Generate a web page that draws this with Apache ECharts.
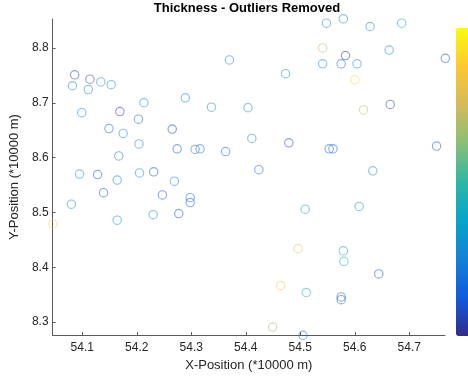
<!DOCTYPE html>
<html>
<head>
<meta charset="utf-8">
<script src="https://cdn.jsdelivr.net/npm/echarts@6/dist/echarts.min.js"></script>
<style>
  html, body { margin: 0; padding: 0; background: #fff; }
  #chart { width: 468px; height: 377px; }
</style>
</head>
<body>
<div id="chart"></div>
<script>
// tick positions (MATLAB style, *10000 m)
const xTicks = [54.1, 54.2, 54.3, 54.4, 54.5, 54.6, 54.7];
const yTicks = [8.3, 8.4, 8.5, 8.6, 8.7, 8.8];

// x, y, thickness (normalised 0..1)
const xPos = [
  54.086, 54.082, 54.114, 54.111, 54.134, 54.153, 54.213, 54.099, 54.169, 54.203,
  54.149, 54.175, 54.204, 54.167, 54.095, 54.128, 54.205, 54.231, 54.164, 54.139,
  54.247, 54.080, 54.164, 54.230, 54.046, 54.370, 54.473, 54.289, 54.337, 54.404,
  54.265, 54.411, 54.479, 54.274, 54.307, 54.316, 54.363, 54.424, 54.269, 54.298,
  54.298, 54.277, 54.509, 54.496, 54.464, 54.511, 54.449, 54.505, 54.548, 54.579,
  54.628, 54.686, 54.541, 54.583, 54.663, 54.766, 54.541, 54.575, 54.604, 54.600,
  54.616, 54.665, 54.553, 54.560, 54.750, 54.633, 54.608, 54.579, 54.580, 54.644,
  54.575, 54.575
];
const yPos = [
  8.751, 8.731, 8.743, 8.724, 8.738, 8.733, 8.700, 8.682, 8.684, 8.670,
  8.653, 8.644, 8.625, 8.603, 8.570, 8.569, 8.572, 8.574, 8.559, 8.536,
  8.532, 8.515, 8.486, 8.496, 8.479, 8.778, 8.753, 8.709, 8.692, 8.691,
  8.652, 8.635, 8.627, 8.616, 8.615, 8.616, 8.611, 8.578, 8.557, 8.527,
  8.518, 8.498, 8.506, 8.434, 8.367, 8.354, 8.291, 8.276, 8.845, 8.853,
  8.839, 8.845, 8.800, 8.786, 8.796, 8.781, 8.771, 8.771, 8.771, 8.742,
  8.687, 8.697, 8.616, 8.616, 8.621, 8.576, 8.511, 8.430, 8.411, 8.388,
  8.346, 8.341
];
const thickness = [
  0.06, 0.28, 0.06, 0.28, 0.28, 0.28, 0.28, 0.28, 0.03, 0.15,
  0.18, 0.28, 0.24, 0.18, 0.32, 0.10, 0.28, 0.10, 0.28, 0.10,
  0.10, 0.28, 0.30, 0.28, 0.90, 0.28, 0.28, 0.28, 0.28, 0.28,
  0.05, 0.28, 0.05, 0.10, 0.20, 0.20, 0.20, 0.18, 0.28, 0.15,
  0.15, 0.10, 0.36, 0.80, 0.85, 0.45, 0.65, 0.20, 0.28, 0.28,
  0.28, 0.36, 0.70, 0.02, 0.30, 0.10, 0.30, 0.20, 0.28, 0.92,
  0.72, 0.05, 0.15, 0.15, 0.10, 0.34, 0.30, 0.40, 0.42, 0.10,
  0.15, 0.15
];

const parula = ['#352a87', '#0f5cdd', '#1481d6', '#06a4ca', '#2eb7a4', '#87bf77', '#d1bb59', '#fec832', '#f9fb0e'];
const font = '"Liberation Sans", Arial, Helvetica, sans-serif';
// hollow ring so overlapping markers stay visible
const ring = 'path://M0,-10A10,10 0 1,0 0,10A10,10 0 1,0 0,-10Z M0,-7.6A7.6,7.6 0 1,1 0,7.6A7.6,7.6 0 1,1 0,-7.6Z';

const points = xPos.map((x, i) => [x, yPos[i], thickness[i]]);

const chart = echarts.init(document.getElementById('chart'), null, { renderer: 'canvas' });

const axisCommon = {
  type: 'value',
  nameLocation: 'middle',
  nameTextStyle: { fontFamily: font, fontSize: 13, color: '#262626' },
  axisLine: { show: true, lineStyle: { color: '#5a5a5a', width: 1 } },
  axisTick: { show: true, inside: true, length: 3, lineStyle: { color: '#5a5a5a' } },
  axisLabel: { fontFamily: font, fontSize: 12, color: '#262626' },
  splitLine: { show: false }
};

chart.setOption({
  animation: false,
  backgroundColor: '#fff',
  title: {
    text: 'Thickness - Outliers Removed',
    left: 247,
    top: 2,
    padding: 0,
    textAlign: 'center',
    textStyle: { fontFamily: font, fontSize: 13, fontWeight: 'bold', color: '#000' }
  },
  grid: { left: 49, right: 23, top: 19, bottom: 41 },
  xAxis: Object.assign({}, axisCommon, {
    name: 'X-Position (*10000 m)',
    nameGap: 22,
    min: 54.0455,
    max: 54.7655,
    axisTick: Object.assign({}, axisCommon.axisTick, { customValues: xTicks }),
    axisLabel: Object.assign({}, axisCommon.axisLabel, { customValues: xTicks, margin: 7, formatter: v => v.toFixed(1) })
  }),
  yAxis: Object.assign({}, axisCommon, {
    name: 'Y-Position (*10000 m)',
    nameGap: 24,
    min: 8.2764,
    max: 8.8527,
    axisTick: Object.assign({}, axisCommon.axisTick, { customValues: yTicks }),
    axisLabel: Object.assign({}, axisCommon.axisLabel, { customValues: yTicks, margin: 4, formatter: v => v.toFixed(1) })
  }),
  visualMap: {
    type: 'continuous',
    min: 0,
    max: 1,
    dimension: 2,
    seriesIndex: 0,
    calculable: false,
    left: 456,
    top: 28,
    padding: 0,
    itemWidth: 20,
    itemHeight: 308,
    text: null,
    showLabel: false,
    inRange: { color: parula }
  },
  series: [{
    type: 'scatter',
    data: points,
    symbol: ring,
    symbolSize: 9.5,
    clip: false,
    itemStyle: { opacity: 0.5 }
  }]
});
</script>
</body>
</html>
